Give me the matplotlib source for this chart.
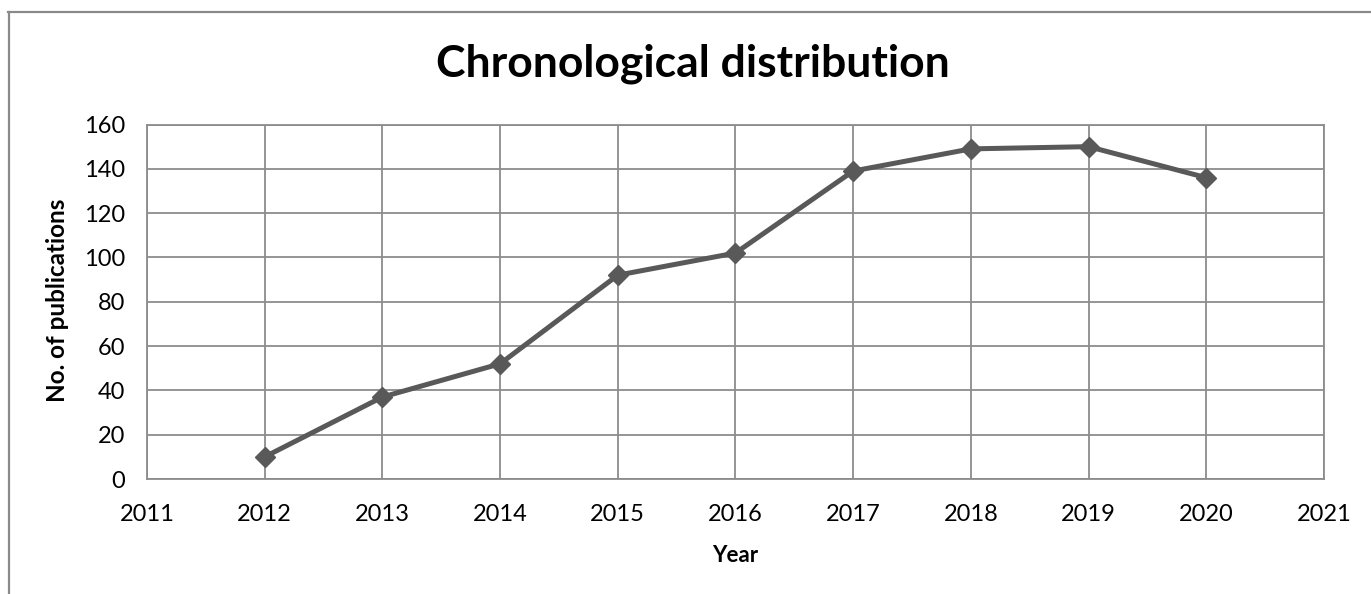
import matplotlib
matplotlib.use("Agg")
import matplotlib.pyplot as plt
from matplotlib.lines import Line2D

years = [2012, 2013, 2014, 2015, 2016, 2017, 2018, 2019, 2020]
publications = [10, 37, 52, 92, 102, 139, 149, 150, 136]
x_ticks = [2011, 2012, 2013, 2014, 2015, 2016, 2017, 2018, 2019, 2020, 2021]
y_ticks = [0, 20, 40, 60, 80, 100, 120, 140, 160]

plt.rcParams['font.family'] = ['Lato', 'DejaVu Sans']

W, H = 1371, 594
fig = plt.figure(figsize=(W / 100, H / 100), dpi=100)
fig.patch.set_facecolor('white')

# outer chart border (top and left only visible)
border_col = '#8a8a8a'
fig.add_artist(Line2D([8.5 / W, 8.5 / W], [0, 1 - 12 / H], transform=fig.transFigure,
                      color=border_col, lw=1.6))
fig.add_artist(Line2D([8 / W, 1], [1 - 12 / H, 1 - 12 / H], transform=fig.transFigure,
                      color=border_col, lw=1.6))

left, right, top, bottom = 147, 1324, 124.5, 479
ax = fig.add_axes([left / W, 1 - bottom / H, (right - left) / W, (bottom - top) / H])

grid_col = '#8c8c8c'
ax.set_xlim(2011, 2021)
ax.set_ylim(0, 160)
ax.set_xticks(x_ticks)
ax.set_yticks(y_ticks)
ax.grid(True, color=grid_col, lw=1.3)
ax.set_axisbelow(True)
for s in ax.spines.values():
    s.set_color(grid_col)
    s.set_linewidth(1.3)
ax.tick_params(length=0, labelsize=17, colors='black', pad=16)
ax.tick_params(axis='x', pad=18)

ax.plot(years, publications, color='#595959', lw=3.6, marker='D', markersize=10.5,
        markerfacecolor='#595959', markeredgecolor='#595959', zorder=3)

fig.text(693 / W, 1 - 77 / H, 'Chronological distribution', ha='center', va='baseline',
         fontsize=32, fontweight='bold')
fig.text(735 / W, 1 - 562 / H, 'Year', ha='center', va='baseline',
         fontsize=16, fontweight='bold')
fig.text(58 / W, 1 - 300 / H, 'No. of publications', ha='center', va='center',
         rotation=90, fontsize=17.5, fontweight='bold')

fig.savefig('out.png', dpi=100)
